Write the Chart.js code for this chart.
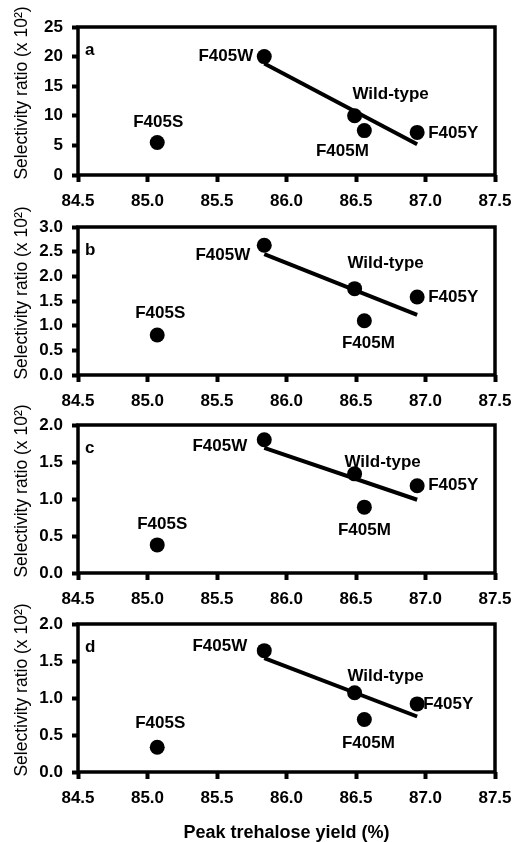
<!DOCTYPE html>
<html>
<head>
<meta charset="utf-8">
<script src="https://cdn.jsdelivr.net/npm/chart.js@4.4.1/dist/chart.umd.min.js"></script>
<style>
  html, body { margin: 0; padding: 0; background: #fff; }
  #wrap { position: relative; width: 514px; height: 842px; overflow: hidden; }
  #wrap canvas { position: absolute; left: 0; }
</style>
</head>
<body>
<div id="wrap">
  <canvas id="panelA"></canvas>
  <canvas id="panelB"></canvas>
  <canvas id="panelC"></canvas>
  <canvas id="panelD"></canvas>
</div>
<script>
// Mutants and their peak trehalose yield (%)
const strains = ['F405S', 'F405W', 'Wild-type', 'F405M', 'F405Y'];
const yieldPct = [85.07, 85.84, 86.49, 86.56, 86.94];

// Selectivity ratio (x 10^2), one array per panel
const ratioA = [5.5, 20.0, 10.0, 7.5, 7.2];
const ratioB = [0.81, 2.63, 1.75, 1.10, 1.58];
const ratioC = [0.38, 1.80, 1.34, 0.89, 1.18];
const ratioD = [0.335, 1.64, 1.07, 0.71, 0.92];

// Trend lines (end points)
const trendX = [85.84, 86.94];
const trendA = [18.85, 5.2];
const trendB = [2.45, 1.22];
const trendC = [1.69, 0.99];
const trendD = [1.54, 0.75];

// Axes
const xMin = 84.5, xMax = 87.5, xStep = 0.5;
const yMaxes = [25, 3.0, 2.0, 2.0];
const ySteps = [5, 0.5, 0.5, 0.5];
const yDecimals = [0, 1, 1, 1];
const panelLetters = ['a', 'b', 'c', 'd'];
const yTitle = 'Selectivity ratio (x 10²)';
const xTitle = 'Peak trehalose yield (%)';

// Label placement: [dx, dy, align] relative to each point, per panel
const labelLayout = [
  [[1, -20, 'center'], [-11, 0, 'right'], [36, -21, 'center'], [-22, 21, 'center'], [11, 1, 'left']],
  [[3, -22, 'center'], [-14, 10, 'right'], [31, -25, 'center'], [4, 23, 'center'], [11, 0, 'left']],
  [[5, -21, 'center'], [-17, 7, 'right'], [28, -12, 'center'], [0, 23, 'center'], [11, 0, 'left']],
  [[3, -24, 'center'], [-17, -4, 'right'], [31, -17, 'center'], [4, 24, 'center'], [6, 0, 'left']]
];
const panelTops = [0, 200, 400, 600];
const plotTops = [27, 27, 25, 24];
const plotHeight = 148;

const FONT = '"Liberation Sans", Arial, sans-serif';
const bold17 = { family: FONT, size: 17, weight: 'bold' };

// Frame, y title, panel letter and point labels
const decorPlugin = {
  id: 'decor',
  afterDraw(chart, args, opts) {
    const { ctx, chartArea: a, scales } = chart;
    ctx.save();
    ctx.strokeStyle = '#000';
    ctx.lineWidth = 3.5;
    ctx.strokeRect(a.left, a.top, a.right - a.left, a.bottom - a.top);

    ctx.fillStyle = '#000';
    // y title sits a little above the axis middle in the original
    ctx.save();
    ctx.translate(22, a.top + 66);
    ctx.rotate(-Math.PI / 2);
    ctx.font = '17.5px ' + FONT;
    ctx.textAlign = 'center';
    ctx.textBaseline = 'middle';
    ctx.fillText(yTitle, 0, 0);
    ctx.restore();

    ctx.font = 'bold 17px ' + FONT;
    ctx.textBaseline = 'middle';
    ctx.textAlign = 'left';
    ctx.fillText(opts.letter, a.left + 7, a.top + 23);

    opts.values.forEach((v, i) => {
      const px = scales.x.getPixelForValue(yieldPct[i]);
      const py = scales.y.getPixelForValue(v);
      const [dx, dy, align] = opts.layout[i];
      ctx.textAlign = align;
      ctx.fillText(strains[i], px + dx, py + dy);
    });
    ctx.restore();
  }
};

function makePanel(id, idx, values, trend) {
  const last = idx === 3;
  const H = last ? 244 : 230;
  const canvas = document.getElementById(id);
  canvas.width = 514;
  canvas.height = H;
  canvas.style.top = panelTops[idx] + 'px';
  const plotBottom = plotTops[idx] + plotHeight;

  return new Chart(canvas, {
    type: 'scatter',
    data: {
      datasets: [
        {
          data: yieldPct.map((x, i) => ({ x, y: values[i] })),
          backgroundColor: '#000',
          borderWidth: 0,
          pointRadius: 7.5,
          pointHoverRadius: 7.5
        },
        {
          type: 'line',
          data: trendX.map((x, i) => ({ x, y: trend[i] })),
          borderColor: '#000',
          borderWidth: 4,
          pointRadius: 0,
          fill: false
        }
      ]
    },
    options: {
      responsive: false,
      animation: false,
      events: [],
      layout: { padding: { top: plotTops[idx], right: 19, left: 0, bottom: 0 } },
      plugins: {
        legend: { display: false },
        tooltip: { enabled: false },
        decor: { letter: panelLetters[idx], values, layout: labelLayout[idx] }
      },
      scales: {
        x: {
          type: 'linear',
          min: xMin,
          max: xMax,
          afterFit: s => { s.height = H - plotBottom; },
          border: { display: false },
          grid: { drawOnChartArea: false, color: '#000', tickLength: 7, tickWidth: 4 },
          ticks: {
            stepSize: xStep,
            color: '#000',
            font: { family: FONT, size: 17, weight: 'bold', lineHeight: 2.0 },
            padding: 2,
            callback: v => v.toFixed(1)
          },
          title: {
            display: last,
            text: xTitle,
            color: '#000',
            font: { family: FONT, size: 18, weight: 'bold' },
            padding: { top: 0, bottom: 0 }
          }
        },
        y: {
          min: 0,
          max: yMaxes[idx],
          afterFit: s => { s.width = 78; },
          border: { display: false },
          grid: { drawOnChartArea: false, color: '#000', tickLength: 6, tickWidth: 4 },
          ticks: {
            stepSize: ySteps[idx],
            color: '#000',
            font: bold17,
            padding: 9,
            callback: v => v.toFixed(yDecimals[idx])
          }
        }
      }
    },
    plugins: [decorPlugin]
  });
}

makePanel('panelA', 0, ratioA, trendA);
makePanel('panelB', 1, ratioB, trendB);
makePanel('panelC', 2, ratioC, trendC);
makePanel('panelD', 3, ratioD, trendD);
</script>
</body>
</html>
